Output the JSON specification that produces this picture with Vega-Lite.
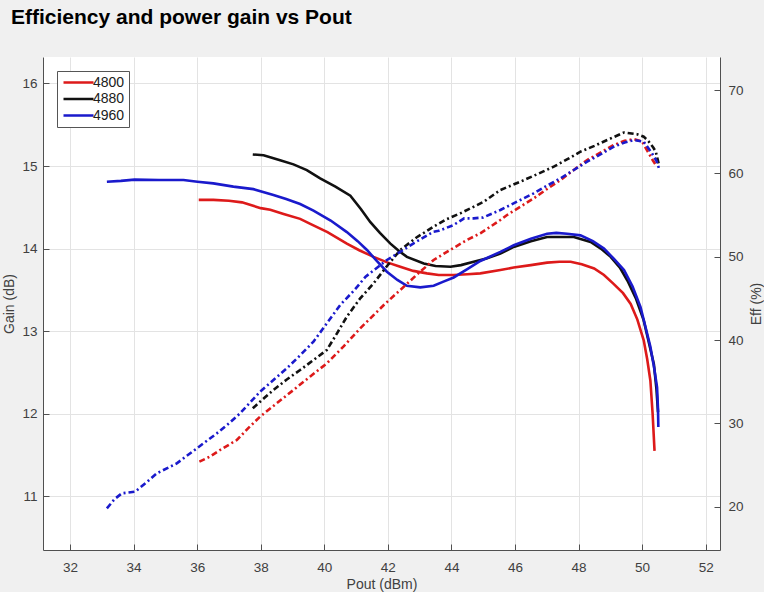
{
  "$schema": "https://vega.github.io/schema/vega-lite/v6.json",
  "autosize": {"type": "none"},
  "width": 677,
  "height": 493,
  "padding": {"left": 43, "top": 57, "right": 44, "bottom": 42},
  "background": "#f0f0f0",
  "title": {
    "text": "Efficiency and power gain vs Pout",
    "anchor": "start",
    "frame": "group",
    "font": "Liberation Sans",
    "fontSize": 21,
    "fontWeight": "bold",
    "color": "#000000",
    "baseline": "alphabetic",
    "offset": 12,
    "dx": -32
  },
  "config": {
    "view": {"fill": "#ffffff", "stroke": null},
    "font": "Liberation Sans",
    "axis": {
      "labelFont": "Liberation Sans",
      "titleFont": "Liberation Sans",
      "labelFontSize": 13.5,
      "titleFontSize": 14,
      "titleFontWeight": "normal",
      "labelColor": "#404040",
      "titleColor": "#404040",
      "domainColor": "#505050",
      "domainWidth": 1,
      "tickColor": "#505050",
      "tickSize": -6,
      "gridColor": "#e3e3e3",
      "gridWidth": 1
    },
    "legend": {
      "labelFont": "Liberation Sans",
      "labelFontSize": 14,
      "labelColor": "#202020"
    }
  },
  "datasets": {
    "gain": [
      {"f": "4800", "p": 36.05, "v": 14.59}, {"f": "4800", "p": 36.51, "v": 14.59}, {"f": "4800", "p": 37.0, "v": 14.58},
      {"f": "4800", "p": 37.41, "v": 14.56}, {"f": "4800", "p": 38.0, "v": 14.49}, {"f": "4800", "p": 38.3, "v": 14.47},
      {"f": "4800", "p": 38.72, "v": 14.42}, {"f": "4800", "p": 39.24, "v": 14.36}, {"f": "4800", "p": 39.56, "v": 14.3},
      {"f": "4800", "p": 40.1, "v": 14.2}, {"f": "4800", "p": 40.71, "v": 14.06}, {"f": "4800", "p": 41.1, "v": 13.98},
      {"f": "4800", "p": 41.55, "v": 13.9}, {"f": "4800", "p": 42.0, "v": 13.83}, {"f": "4800", "p": 42.39, "v": 13.78},
      {"f": "4800", "p": 42.8, "v": 13.73}, {"f": "4800", "p": 43.23, "v": 13.7}, {"f": "4800", "p": 43.6, "v": 13.68},
      {"f": "4800", "p": 44.07, "v": 13.68}, {"f": "4800", "p": 44.5, "v": 13.69}, {"f": "4800", "p": 44.91, "v": 13.7},
      {"f": "4800", "p": 45.54, "v": 13.74}, {"f": "4800", "p": 45.96, "v": 13.77}, {"f": "4800", "p": 46.5, "v": 13.8},
      {"f": "4800", "p": 47.01, "v": 13.83}, {"f": "4800", "p": 47.4, "v": 13.84}, {"f": "4800", "p": 47.75, "v": 13.84},
      {"f": "4800", "p": 48.1, "v": 13.81}, {"f": "4800", "p": 48.49, "v": 13.76}, {"f": "4800", "p": 48.8, "v": 13.68},
      {"f": "4800", "p": 49.11, "v": 13.57}, {"f": "4800", "p": 49.4, "v": 13.46}, {"f": "4800", "p": 49.64, "v": 13.33},
      {"f": "4800", "p": 49.85, "v": 13.14}, {"f": "4800", "p": 50.05, "v": 12.89}, {"f": "4800", "p": 50.16, "v": 12.66},
      {"f": "4800", "p": 50.26, "v": 12.4}, {"f": "4800", "p": 50.33, "v": 12.0}, {"f": "4800", "p": 50.39, "v": 11.55},

      {"f": "4880", "p": 37.75, "v": 15.14}, {"f": "4880", "p": 38.09, "v": 15.13}, {"f": "4880", "p": 38.61, "v": 15.07},
      {"f": "4880", "p": 39.03, "v": 15.02}, {"f": "4880", "p": 39.45, "v": 14.95}, {"f": "4880", "p": 39.87, "v": 14.85},
      {"f": "4880", "p": 40.35, "v": 14.75}, {"f": "4880", "p": 40.82, "v": 14.64}, {"f": "4880", "p": 41.15, "v": 14.48},
      {"f": "4880", "p": 41.45, "v": 14.32}, {"f": "4880", "p": 41.75, "v": 14.19}, {"f": "4880", "p": 42.08, "v": 14.06},
      {"f": "4880", "p": 42.35, "v": 13.97}, {"f": "4880", "p": 42.6, "v": 13.9}, {"f": "4880", "p": 43.13, "v": 13.82},
      {"f": "4880", "p": 43.5, "v": 13.79}, {"f": "4880", "p": 43.97, "v": 13.78}, {"f": "4880", "p": 44.3, "v": 13.8},
      {"f": "4880", "p": 44.7, "v": 13.84}, {"f": "4880", "p": 45.1, "v": 13.88}, {"f": "4880", "p": 45.54, "v": 13.94},
      {"f": "4880", "p": 45.96, "v": 14.02}, {"f": "4880", "p": 46.5, "v": 14.09}, {"f": "4880", "p": 47.01, "v": 14.14},
      {"f": "4880", "p": 47.4, "v": 14.14}, {"f": "4880", "p": 47.85, "v": 14.14}, {"f": "4880", "p": 48.38, "v": 14.08},
      {"f": "4880", "p": 48.7, "v": 14.0}, {"f": "4880", "p": 49.01, "v": 13.9}, {"f": "4880", "p": 49.3, "v": 13.77},
      {"f": "4880", "p": 49.54, "v": 13.61}, {"f": "4880", "p": 49.8, "v": 13.4}, {"f": "4880", "p": 50.05, "v": 13.13},
      {"f": "4880", "p": 50.2, "v": 12.88}, {"f": "4880", "p": 50.37, "v": 12.6}, {"f": "4880", "p": 50.45, "v": 12.3},
      {"f": "4880", "p": 50.5, "v": 12.02},

      {"f": "4960", "p": 33.16, "v": 14.81}, {"f": "4960", "p": 33.6, "v": 14.82}, {"f": "4960", "p": 34.03, "v": 14.835},
      {"f": "4960", "p": 34.8, "v": 14.83}, {"f": "4960", "p": 35.57, "v": 14.83}, {"f": "4960", "p": 36.01, "v": 14.81},
      {"f": "4960", "p": 36.51, "v": 14.79}, {"f": "4960", "p": 37.14, "v": 14.75}, {"f": "4960", "p": 37.77, "v": 14.72},
      {"f": "4960", "p": 38.4, "v": 14.65}, {"f": "4960", "p": 38.8, "v": 14.6}, {"f": "4960", "p": 39.24, "v": 14.54},
      {"f": "4960", "p": 39.66, "v": 14.46}, {"f": "4960", "p": 40.2, "v": 14.34}, {"f": "4960", "p": 40.71, "v": 14.2},
      {"f": "4960", "p": 41.05, "v": 14.09}, {"f": "4960", "p": 41.35, "v": 13.98}, {"f": "4960", "p": 41.65, "v": 13.85},
      {"f": "4960", "p": 41.97, "v": 13.72}, {"f": "4960", "p": 42.3, "v": 13.62}, {"f": "4960", "p": 42.6, "v": 13.55},
      {"f": "4960", "p": 43.02, "v": 13.53}, {"f": "4960", "p": 43.44, "v": 13.55}, {"f": "4960", "p": 43.75, "v": 13.6},
      {"f": "4960", "p": 44.07, "v": 13.65}, {"f": "4960", "p": 44.5, "v": 13.75}, {"f": "4960", "p": 44.91, "v": 13.85},
      {"f": "4960", "p": 45.54, "v": 13.96}, {"f": "4960", "p": 45.96, "v": 14.04}, {"f": "4960", "p": 46.5, "v": 14.12},
      {"f": "4960", "p": 47.01, "v": 14.18}, {"f": "4960", "p": 47.3, "v": 14.19}, {"f": "4960", "p": 47.64, "v": 14.18},
      {"f": "4960", "p": 48.06, "v": 14.16}, {"f": "4960", "p": 48.45, "v": 14.09}, {"f": "4960", "p": 48.8, "v": 14.0},
      {"f": "4960", "p": 49.1, "v": 13.88}, {"f": "4960", "p": 49.43, "v": 13.74}, {"f": "4960", "p": 49.7, "v": 13.54},
      {"f": "4960", "p": 49.95, "v": 13.29}, {"f": "4960", "p": 50.1, "v": 13.06}, {"f": "4960", "p": 50.26, "v": 12.81},
      {"f": "4960", "p": 50.38, "v": 12.55}, {"f": "4960", "p": 50.47, "v": 12.32}, {"f": "4960", "p": 50.5, "v": 12.05},
      {"f": "4960", "p": 50.51, "v": 11.84}
    ],
    "eff": [
      {"f": "4800", "p": 36.07, "v": 25.4}, {"f": "4800", "p": 36.4, "v": 26.0}, {"f": "4800", "p": 36.72, "v": 26.8},
      {"f": "4800", "p": 37.25, "v": 28.0}, {"f": "4800", "p": 37.6, "v": 29.4}, {"f": "4800", "p": 37.98, "v": 30.8},
      {"f": "4800", "p": 38.5, "v": 32.4}, {"f": "4800", "p": 39.03, "v": 34.0}, {"f": "4800", "p": 39.55, "v": 35.6},
      {"f": "4800", "p": 40.08, "v": 37.2}, {"f": "4800", "p": 40.6, "v": 39.2}, {"f": "4800", "p": 41.13, "v": 41.4},
      {"f": "4800", "p": 41.45, "v": 42.6}, {"f": "4800", "p": 41.9, "v": 44.3}, {"f": "4800", "p": 42.39, "v": 46.0},
      {"f": "4800", "p": 42.9, "v": 47.8}, {"f": "4800", "p": 43.44, "v": 49.6}, {"f": "4800", "p": 44.0, "v": 50.9},
      {"f": "4800", "p": 44.49, "v": 52.0}, {"f": "4800", "p": 44.91, "v": 52.8}, {"f": "4800", "p": 45.54, "v": 54.4},
      {"f": "4800", "p": 45.75, "v": 55.0}, {"f": "4800", "p": 46.17, "v": 56.0}, {"f": "4800", "p": 46.59, "v": 57.0},
      {"f": "4800", "p": 47.0, "v": 58.1}, {"f": "4800", "p": 47.43, "v": 59.2}, {"f": "4800", "p": 47.85, "v": 60.4},
      {"f": "4800", "p": 48.27, "v": 61.6}, {"f": "4800", "p": 48.7, "v": 62.5}, {"f": "4800", "p": 49.11, "v": 63.4},
      {"f": "4800", "p": 49.45, "v": 63.9}, {"f": "4800", "p": 49.74, "v": 64.1}, {"f": "4800", "p": 50.0, "v": 63.8},
      {"f": "4800", "p": 50.21, "v": 62.4}, {"f": "4800", "p": 50.33, "v": 61.6}, {"f": "4800", "p": 50.43, "v": 61.0},

      {"f": "4880", "p": 37.75, "v": 31.8}, {"f": "4880", "p": 38.1, "v": 33.0}, {"f": "4880", "p": 38.4, "v": 34.0},
      {"f": "4880", "p": 38.8, "v": 35.2}, {"f": "4880", "p": 39.24, "v": 36.4}, {"f": "4880", "p": 39.66, "v": 37.6},
      {"f": "4880", "p": 40.08, "v": 38.8}, {"f": "4880", "p": 40.4, "v": 40.8}, {"f": "4880", "p": 40.71, "v": 42.8},
      {"f": "4880", "p": 41.13, "v": 45.0}, {"f": "4880", "p": 41.55, "v": 46.8}, {"f": "4880", "p": 42.0, "v": 49.0},
      {"f": "4880", "p": 42.39, "v": 50.8}, {"f": "4880", "p": 42.9, "v": 52.3}, {"f": "4880", "p": 43.44, "v": 53.6},
      {"f": "4880", "p": 43.85, "v": 54.5}, {"f": "4880", "p": 44.28, "v": 55.2}, {"f": "4880", "p": 44.6, "v": 55.8},
      {"f": "4880", "p": 45.02, "v": 56.6}, {"f": "4880", "p": 45.54, "v": 58.0}, {"f": "4880", "p": 46.17, "v": 59.0},
      {"f": "4880", "p": 46.7, "v": 59.9}, {"f": "4880", "p": 47.22, "v": 60.8}, {"f": "4880", "p": 47.65, "v": 61.7},
      {"f": "4880", "p": 48.06, "v": 62.6}, {"f": "4880", "p": 48.5, "v": 63.3}, {"f": "4880", "p": 48.9, "v": 64.0},
      {"f": "4880", "p": 49.43, "v": 64.9}, {"f": "4880", "p": 49.84, "v": 64.7}, {"f": "4880", "p": 50.05, "v": 64.4},
      {"f": "4880", "p": 50.21, "v": 63.8}, {"f": "4880", "p": 50.35, "v": 63.1}, {"f": "4880", "p": 50.43, "v": 62.6},
      {"f": "4880", "p": 50.53, "v": 61.0},

      {"f": "4960", "p": 33.16, "v": 19.8}, {"f": "4960", "p": 33.4, "v": 20.9}, {"f": "4960", "p": 33.63, "v": 21.6},
      {"f": "4960", "p": 34.05, "v": 21.8}, {"f": "4960", "p": 34.4, "v": 22.9}, {"f": "4960", "p": 34.73, "v": 24.0},
      {"f": "4960", "p": 35.36, "v": 25.2}, {"f": "4960", "p": 35.99, "v": 27.0}, {"f": "4960", "p": 36.62, "v": 28.8},
      {"f": "4960", "p": 37.0, "v": 30.0}, {"f": "4960", "p": 37.35, "v": 31.2}, {"f": "4960", "p": 37.98, "v": 33.8},
      {"f": "4960", "p": 38.4, "v": 35.2}, {"f": "4960", "p": 38.82, "v": 36.6}, {"f": "4960", "p": 39.25, "v": 38.2},
      {"f": "4960", "p": 39.66, "v": 39.8}, {"f": "4960", "p": 40.08, "v": 42.0}, {"f": "4960", "p": 40.5, "v": 44.2},
      {"f": "4960", "p": 40.95, "v": 46.0}, {"f": "4960", "p": 41.3, "v": 47.6}, {"f": "4960", "p": 41.97, "v": 49.6},
      {"f": "4960", "p": 42.4, "v": 50.6}, {"f": "4960", "p": 42.81, "v": 51.6}, {"f": "4960", "p": 43.44, "v": 53.0},
      {"f": "4960", "p": 43.6, "v": 53.1}, {"f": "4960", "p": 44.07, "v": 53.8}, {"f": "4960", "p": 44.4, "v": 54.6},
      {"f": "4960", "p": 44.7, "v": 54.6}, {"f": "4960", "p": 45.0, "v": 54.7}, {"f": "4960", "p": 45.54, "v": 55.6},
      {"f": "4960", "p": 45.75, "v": 56.0}, {"f": "4960", "p": 46.17, "v": 56.8}, {"f": "4960", "p": 46.59, "v": 57.6},
      {"f": "4960", "p": 47.0, "v": 58.5}, {"f": "4960", "p": 47.43, "v": 59.4}, {"f": "4960", "p": 47.85, "v": 60.4},
      {"f": "4960", "p": 48.27, "v": 61.4}, {"f": "4960", "p": 48.7, "v": 62.3}, {"f": "4960", "p": 49.11, "v": 63.2},
      {"f": "4960", "p": 49.45, "v": 63.7}, {"f": "4960", "p": 49.74, "v": 64.0}, {"f": "4960", "p": 50.05, "v": 63.8},
      {"f": "4960", "p": 50.31, "v": 62.4}, {"f": "4960", "p": 50.45, "v": 61.5}, {"f": "4960", "p": 50.53, "v": 60.6}
    ]
  },
  "layer": [
    {
      "data": {"name": "gain"},
      "mark": {"type": "line", "strokeWidth": 2.6, "clip": true},
      "encoding": {
        "x": {
          "field": "p", "type": "quantitative",
          "scale": {"domain": [31.15, 52.45], "nice": false, "zero": false},
          "axis": {"values": [32, 34, 36, 38, 40, 42, 44, 46, 48, 50, 52], "title": "Pout (dBm)", "labelPadding": 16, "titlePadding": 4, "grid": true}
        },
        "y": {
          "field": "v", "type": "quantitative",
          "scale": {"domain": [10.35, 16.32], "nice": false, "zero": false},
          "axis": {"orient": "left", "values": [11, 12, 13, 14, 15, 16], "title": "Gain (dB)", "labelPadding": 12, "titlePadding": 5, "grid": true}
        },
        "color": {
          "field": "f", "type": "nominal",
          "scale": {"domain": ["4800", "4880", "4960"], "range": ["#dd1a1a", "#111111", "#1a1acc"]},
          "legend": {
            "title": null,
            "orient": "none",
            "legendX": 14,
            "legendY": 14,
            "fillColor": "#ffffff",
            "strokeColor": "#555555",
            "padding": 4.5,
            "symbolType": "M-1,0H5",
            "symbolSize": 100,
            "symbolStrokeWidth": 2.6,
            "symbolDash": [1, 0],
            "labelOffset": 17.5,
            "rowPadding": 2.5
          }
        },
        "detail": {"field": "f"}
      }
    },
    {
      "data": {"name": "eff"},
      "mark": {"type": "line", "strokeWidth": 2.6, "strokeDash": [6, 3, 2, 3], "clip": true},
      "encoding": {
        "x": {"field": "p", "type": "quantitative"},
        "y": {
          "field": "v", "type": "quantitative",
          "scale": {"domain": [14.8, 73.96], "nice": false, "zero": false},
          "axis": {"orient": "right", "values": [20, 30, 40, 50, 60, 70], "title": "Eff (%)", "titleAngle": 270, "labelPadding": 14, "titlePadding": 20, "grid": false}
        },
        "color": {"field": "f", "type": "nominal", "legend": null},
        "detail": {"field": "f"}
      }
    }
  ],
  "resolve": {"scale": {"y": "independent"}}
}
